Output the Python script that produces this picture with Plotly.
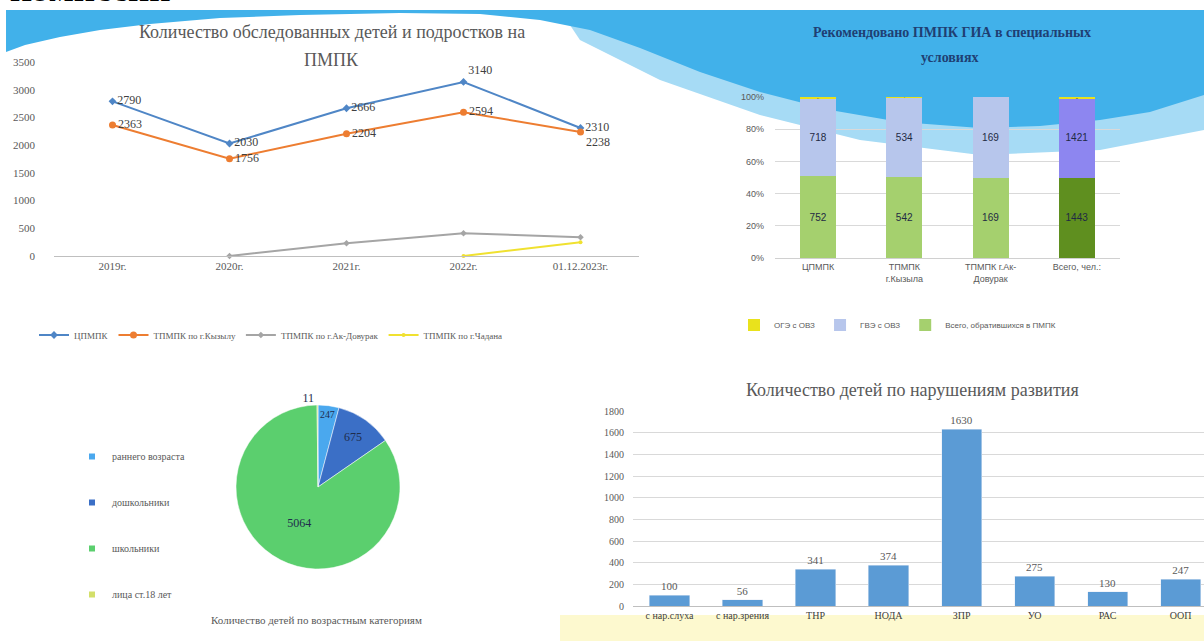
import plotly.graph_objects as go

W, H = 1204, 641

# Количество обследованных детей и подростков на ПМПК
years = ["2019г.", "2020г.", "2021г.", "2022г.", "01.12.2023г."]
cpmpk = [2790, 2030, 2666, 3140, 2310]
kyzyl = [2363, 1756, 2204, 2594, 2238]
ak_dovurak = [None, 0, 230, 410, 340]
chadan = [None, None, None, 0, 250]

# Рекомендовано ПМПК ГИА в специальных условиях
rec_cats = ["ЦПМПК", "ТПМПК<br>г.Кызыла", "ТПМПК г.Ак-<br>Довурак", "Всего, чел.:"]
vsego = [752, 542, 169, 1443]
gve = [718, 534, 169, 1421]
oge = [14, 6, 0, 22]

# Количество детей по возрастным категориям
age_labels = ["раннего возраста", "дошкольники", "школьники", "лица ст.18 лет"]
age_values = [247, 675, 5064, 11]
age_colors = ["#4aa8ee", "#3b6fc6", "#5bcf6e", "#d3df6a"]

# Количество детей по нарушениям развития
dev_cats = ["с нар.слуха", "с нар.зрения", "ТНР", "НОДА", "ЗПР", "УО", "РАС", "ООП"]
dev_values = [100, 56, 341, 374, 1630, 275, 130, 247]

SERIF = "Liberation Serif, Times New Roman, serif"
SANS = "Liberation Sans, Arial, sans-serif"
GRAY = "#595959"


def px_x(x):
    return x / W


def px_y(y):
    return 1 - y / H


def wave(points):
    return "M " + " L ".join(f"{px_x(x):.4f},{px_y(y):.4f}" for x, y in points) + " Z"


fig = go.Figure()

# линии
line_styles = [
    ("ЦПМПК", cpmpk, "#4f86c6", "diamond", 6,
     ["middle right", "middle right", "middle right", "top right", "middle right"]),
    ("ТПМПК по г.Кызылу", kyzyl, "#ed7d31", "circle", 7,
     ["middle right", "middle right", "middle right", "middle right", "bottom right"]),
    ("ТПМПК по г.Ак-Довурак", ak_dovurak, "#a5a5a5", "diamond", 5, None),
    ("ТПМПК по г.Чадана", chadan, "#f0e130", "circle", 4, None),
]
for name, vals, col, sym, size, tpos in line_styles:
    labelled = tpos is not None
    fig.add_trace(go.Scatter(
        x=years, y=vals, name=name, mode="lines+markers+text" if labelled else "lines+markers",
        text=[str(v) for v in vals] if labelled else None,
        textposition=tpos if labelled else "middle right",
        textfont=dict(family=SERIF, size=12, color="#404040"),
        line=dict(color=col, width=2), marker=dict(symbol=sym, size=size, color=col),
        cliponaxis=False, connectgaps=False, legend="legend",
        xaxis="x", yaxis="y",
    ))

# цилиндры 100%
totals = [a + b + c for a, b, c in zip(vsego, gve, oge)]
bar_sets = [
    ("Всего, обратившихся в ПМПК", vsego, ["#a5d06e", "#a5d06e", "#a5d06e", "#5f8f1f"]),
    ("ГВЭ с ОВЗ", gve, ["#b7c6ec", "#b7c6ec", "#b7c6ec", "#8d86f0"]),
    ("ОГЭ с ОВЗ", oge, ["#e9e21c", "#e9e21c", "#e9e21c", "#e9e21c"]),
]
for name, vals, cols in bar_sets:
    fig.add_trace(go.Bar(
        x=rec_cats, y=[v / t * 100 for v, t in zip(vals, totals)], name=name,
        marker=dict(color=cols, line=dict(width=0)),
        text=[str(v) if v else "" for v in vals], texttemplate="%{text}",
        textposition="inside", insidetextanchor="middle",
        textfont=dict(family=SANS, size=10, color="#1f2a44"),
        width=0.42, legend="legend2", xaxis="x2", yaxis="y2",
    ))

# круговая диаграмма
fig.add_trace(go.Pie(
    labels=age_labels, values=age_values, sort=False, direction="clockwise",
    marker=dict(colors=age_colors, line=dict(color="white", width=0.5)),
    textinfo="value", textposition=["inside", "inside", "inside", "outside"],
    insidetextorientation="horizontal",
    textfont=dict(family=SERIF, size=12, color="#1f2d4d"),
    showlegend=False,
    domain=dict(x=[px_x(236), px_x(400)], y=[px_y(570), px_y(404)]),
))
for lab, col in zip(age_labels, age_colors):
    fig.add_trace(go.Scatter(
        x=[None], y=[None], mode="markers", name=lab, legendgroup=lab,
        marker=dict(symbol="square", size=6, color=col),
        legend="legend3", xaxis="x", yaxis="y",
    ))

# столбцы
fig.add_trace(go.Bar(
    x=dev_cats, y=dev_values, marker=dict(color="#5b9bd5"), width=0.55,
    text=dev_values, textposition="outside", cliponaxis=False,
    textfont=dict(family=SERIF, size=11, color=GRAY),
    showlegend=False, xaxis="x3", yaxis="y3",
))

shapes = [
    dict(type="path", xref="paper", yref="paper", layer="below", line=dict(width=0),
         fillcolor="#a6dbf5",
         path=wave([(560, 10), (1204, 10), (1204, 130), (1100, 150), (980, 155), (860, 140),
                    (760, 115), (660, 80), (580, 40)])),
    dict(type="path", xref="paper", yref="paper", layer="below", line=dict(width=0),
         fillcolor="#41b1ea",
         path=wave([(6, 10), (1204, 10), (1204, 95), (1150, 112), (1100, 120), (1040, 126),
                    (980, 128), (900, 122), (830, 110), (760, 92), (700, 72), (640, 48),
                    (590, 30), (540, 20), (480, 14), (400, 13), (300, 15), (220, 18),
                    (150, 24), (100, 30), (60, 37), (25, 45), (6, 52)])),
    dict(type="rect", xref="paper", yref="paper", layer="below", line=dict(width=0),
         fillcolor="#fdf9cf", x0=px_x(560), x1=1, y0=0, y1=px_y(615)),
]

annotations = [
    dict(text="комиссии", x=px_x(8), y=px_y(-11), xanchor="left", yanchor="middle",
         font=dict(family=SERIF, size=37, color="black", weight="bold")),
    dict(text="Количество обследованных детей и подростков на", x=px_x(332), y=px_y(32)),
    dict(text="ПМПК", x=px_x(332), y=px_y(60)),
    dict(text="Рекомендовано ПМПК ГИА в специальных", x=px_x(952), y=px_y(32),
         font=dict(family=SERIF, size=14, color="#1f3f73", weight="bold")),
    dict(text="условиях", x=px_x(950), y=px_y(57),
         font=dict(family=SERIF, size=14, color="#1f3f73", weight="bold")),
    dict(text="Количество детей по нарушениям развития", x=px_x(912), y=px_y(390)),
    dict(text="Количество детей по возрастным категориям", x=px_x(316), y=px_y(620),
         font=dict(family=SERIF, size=11, color=GRAY)),
]
for a in annotations:
    a.setdefault("xref", "paper")
    a.setdefault("yref", "paper")
    a.setdefault("showarrow", False)
    a.setdefault("xanchor", "center")
    a.setdefault("yanchor", "middle")
    a.setdefault("font", dict(family=SERIF, size=18, color=GRAY))

fig.update_layout(
    width=W, height=H, margin=dict(l=0, r=0, t=0, b=0, autoexpand=False),
    paper_bgcolor="white", plot_bgcolor="rgba(0,0,0,0)",
    barmode="stack",
    shapes=shapes, annotations=annotations,
    xaxis=dict(domain=[px_x(54), px_x(639)], range=[-0.5, 4.5], showline=True, linecolor="#bfbfbf",
               showgrid=False, ticks="", tickfont=dict(family=SERIF, size=11, color=GRAY)),
    yaxis=dict(domain=[px_y(256), px_y(62)], range=[0, 3500], dtick=500, showgrid=False,
               zeroline=False, tickfont=dict(family=SERIF, size=11, color=GRAY), ticklabelstandoff=18),
    xaxis2=dict(domain=[px_x(775), px_x(1120)], showgrid=False, showline=True, linecolor="#d0d0d0",
                tickfont=dict(family=SANS, size=9, color=GRAY), anchor="y2"),
    yaxis2=dict(domain=[px_y(258), px_y(97)], range=[0, 100], dtick=20, ticksuffix="%",
                showgrid=True, gridcolor="#d9d9d9", zeroline=False, anchor="x2",
                tickfont=dict(family=SANS, size=9, color=GRAY), ticklabelstandoff=10),
    xaxis3=dict(domain=[px_x(633), 1], range=[-0.5, 7.32], showgrid=False, showline=True,
                linecolor="#bfbfbf", tickfont=dict(family=SERIF, size=10, color="#404040"), anchor="y3"),
    yaxis3=dict(domain=[px_y(606), px_y(411)], range=[0, 1800], dtick=200, showgrid=True,
                gridcolor="#d9d9d9", zeroline=False, anchor="x3",
                tickfont=dict(family=SERIF, size=10, color=GRAY), ticklabelstandoff=8),
    legend=dict(orientation="h", x=px_x(34), y=px_y(335), xanchor="left", yanchor="middle",
                traceorder="normal", itemwidth=30,
                font=dict(family=SERIF, size=9, color=GRAY), bgcolor="rgba(0,0,0,0)"),
    legend2=dict(orientation="h", x=px_x(734), y=px_y(325), xanchor="left", yanchor="middle",
                 traceorder="reversed", font=dict(family=SANS, size=8, color=GRAY),
                 bgcolor="rgba(0,0,0,0)", itemwidth=30),
    legend3=dict(x=px_x(72), y=px_y(442), xanchor="left", yanchor="top", tracegroupgap=27,
                 traceorder="grouped",
                 font=dict(family=SERIF, size=10, color=GRAY), bgcolor="rgba(0,0,0,0)",
                 itemwidth=30),
)

# страница без полей браузера
fig.write_html("out.html", config={"displayModeBar": False},
               post_script="document.body.style.margin='0px';")
